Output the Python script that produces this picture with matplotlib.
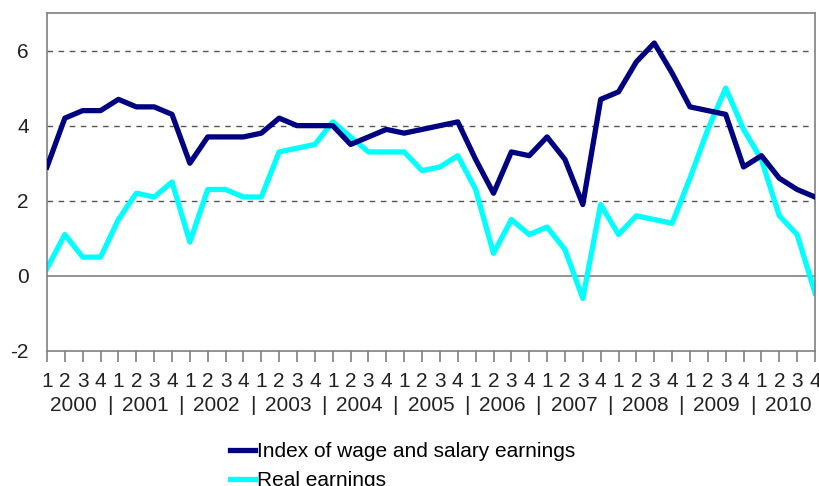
import matplotlib
matplotlib.use("Agg")
import matplotlib.pyplot as plt

plt.rcParams["font.family"] = ["Liberation Sans", "DejaVu Sans"]

# ------------------------------------------------------------------
# Data (annual change %, quarterly 2000Q1 - 2010Q4)
# ------------------------------------------------------------------

years = ["2000", "2001", "2002", "2003", "2004", "2005",
         "2006", "2007", "2008", "2009", "2010"]
quarter_labels = ["1", "2", "3", "4"] * len(years)

wage_index = [
    2.9, 4.2, 4.4, 4.4,
    4.7, 4.5, 4.5, 4.3,
    3.0, 3.7, 3.7, 3.7,
    3.8, 4.2, 4.0, 4.0,
    4.0, 3.5, 3.7, 3.9,
    3.8, 3.9, 4.0, 4.1,
    3.1, 2.2, 3.3, 3.2,
    3.7, 3.1, 1.9, 4.7,
    4.9, 5.7, 6.2, 5.4,
    4.5, 4.4, 4.3, 2.9,
    3.2, 2.6, 2.3, 2.1,
]

real_earnings = [
    0.2, 1.1, 0.5, 0.5,
    1.5, 2.2, 2.1, 2.5,
    0.9, 2.3, 2.3, 2.1,
    2.1, 3.3, 3.4, 3.5,
    4.1, 3.7, 3.3, 3.3,
    3.3, 2.8, 2.9, 3.2,
    2.3, 0.6, 1.5, 1.1,
    1.3, 0.7, -0.6, 1.9,
    1.1, 1.6, 1.5, 1.4,
    2.6, 3.9, 5.0, 3.9,
    3.1, 1.6, 1.1, -0.45,
]

# ------------------------------------------------------------------

fig = plt.figure(figsize=(8.2, 4.86), dpi=100)
ax = fig.add_axes([0.0573, 0.2778, 0.9366, 0.6955])

x = list(range(len(wage_index)))

ax.plot(x, wage_index, color="#000080", linewidth=3.8,
        label="Index of wage and salary earnings", zorder=3)
ax.plot(x, real_earnings, color="#00FFFF", linewidth=3.8,
        label="Real earnings", zorder=2)

ax.set_xlim(0, len(x) - 1)
ax.set_ylim(-2, 7)

for y in [2, 4, 6]:
    ax.axhline(y, color="#555555", linewidth=1, linestyle=(0, (4, 4)), zorder=1)
ax.axhline(0, color="#808080", linewidth=1.2, zorder=1)

for side in ["left", "right", "top", "bottom"]:
    ax.spines[side].set_color("#808080")
    ax.spines[side].set_linewidth(1.2)

ax.set_yticks([-2, 0, 2, 4, 6])
ax.set_yticklabels(["-2", "0", "2", "4", "6"])
ax.tick_params(axis="y", length=0, pad=13, labelsize=15, labelcolor="#222222")

ax.set_xticks(x)
ax.set_xticklabels(quarter_labels)
ax.tick_params(axis="x", length=8, width=1.2, color="#808080",
               pad=7, labelsize=15, labelcolor="#222222")

# year labels with separators below the quarter labels
for i, yr in enumerate(years):
    ax.annotate(yr, xy=(i * 4 + 1.5, 0), xycoords=("data", "axes fraction"),
                xytext=(0, -39), textcoords="offset points",
                ha="center", va="center", fontsize=15, color="#222222")
    if i < len(years) - 1:
        ax.annotate("|", xy=(i * 4 + 3.5, 0), xycoords=("data", "axes fraction"),
                    xytext=(0, -39), textcoords="offset points",
                    ha="center", va="center", fontsize=15, color="#222222")

fig.legend(loc="upper left", bbox_to_anchor=(230 / 820, 1 - 442 / 486),
           frameon=False, fontsize=15, handlelength=1.2, handletextpad=0.1,
           labelspacing=0.5, borderpad=0, borderaxespad=0)

fig.savefig("out.png", dpi=100)
